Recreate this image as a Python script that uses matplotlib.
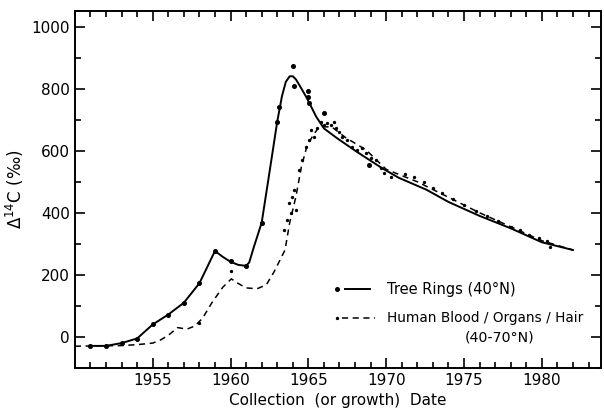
import matplotlib
matplotlib.use('Agg')
import matplotlib.pyplot as plt
from matplotlib.ticker import MultipleLocator

# tree ring measurements (dots)
tree_years = [1951, 1952, 1953, 1954, 1955, 1956, 1957, 1958, 1959, 1960, 1961,
              1962, 1963, 1963.1, 1964.0, 1964.1, 1965.0, 1965.0, 1965.05, 1966.0, 1968.9]
tree_vals = [-29, -29, -20, -7, 42, 71, 109, 173, 277, 245, 229,
             368, 694, 742, 874, 810, 794, 774, 755, 723, 555]

# tree ring fitted curve
tree_curve_years = [1950.9, 1952, 1953, 1954, 1955, 1956, 1957, 1958, 1958.5, 1959,
                    1959.5, 1960, 1960.5, 1961, 1961.2, 1961.5, 1962, 1962.5, 1963,
                    1963.3, 1963.55, 1963.8, 1964.0, 1964.2, 1964.5, 1964.9, 1965.5, 1966,
                    1966.8, 1968.1, 1969.7, 1970.8, 1972.6, 1974, 1976, 1978, 1980, 1982]
tree_curve_vals = [-29, -29, -20, -5, 40, 72, 110, 173, 225, 277,
                   258, 242, 232, 229, 240, 290, 368, 530, 694,
                   775, 822, 840, 840, 830, 805, 770, 710, 672,
                   642, 597, 545, 513, 474, 435, 390, 350, 305, 280]

# human blood / organs / hair curve
human_curve_years = [1950, 1953, 1954, 1955, 1955.5, 1956, 1956.6, 1957.2, 1957.7, 1958.2,
                     1958.8, 1959.5, 1960.05, 1960.5, 1961, 1961.7, 1962.3, 1962.8,
                     1963.5, 1963.8, 1964.2, 1964.55, 1964.9, 1965.3, 1965.7, 1966.5,
                     1967.4, 1968.7, 1970, 1972, 1974, 1976, 1978, 1980, 1982]
human_curve_vals = [-30, -28, -25, -20, -10, 5, 30, 25, 35, 60,
                    110, 160, 187, 172, 158, 155, 168, 210,
                    280, 368, 452, 548, 613, 650, 677, 677,
                    642, 603, 540, 500, 450, 400, 355, 310, 280]

# human sample points
human_years = [1958.0, 1960.0, 1963.46, 1963.65, 1963.78, 1963.97, 1964.23, 1963.91, 1964.10,
               1964.42, 1964.62, 1964.87, 1965.06, 1965.19, 1965.38, 1965.58, 1965.83,
               1966.03, 1966.22, 1966.47, 1966.67, 1966.79, 1966.99, 1967.18, 1967.5,
               1967.82, 1968.14, 1968.46, 1968.72, 1969.04, 1969.36, 1969.68, 1969.87,
               1970.32, 1971.2, 1971.8, 1972.4, 1973.0, 1973.6, 1974.3, 1975.0, 1975.8,
               1976.5, 1977.2, 1978.0, 1978.6, 1979.2, 1979.8, 1980.3, 1980.5]
human_vals = [45, 213, 345, 377, 432, 452, 410, 400, 474,
              539, 571, 613, 635, 668, 645, 674, 694,
              684, 690, 684, 694, 674, 661, 645, 635,
              613, 603, 610, 593, 577, 571, 545, 529,
              516, 525, 515, 500, 480, 465, 445, 425, 405,
              390, 372, 355, 345, 330, 320, 310, 290]

fig = plt.figure(figsize=(6.04, 4.12), dpi=100)
ax = fig.add_axes([0.124, 0.107, 0.871, 0.866])

ax.plot(tree_curve_years, tree_curve_vals, color='black', lw=1.4)
ax.plot(tree_years, tree_vals, 'o', color='black', ms=2.6)
ax.plot(human_curve_years, human_curve_vals, color='black', lw=1.1, dashes=(4, 3))
ax.plot(human_years, human_vals, 'o', color='black', ms=1.4)

ax.set_xlim(1950, 1983.8)
ax.set_ylim(-100, 1050)
ax.xaxis.set_major_locator(MultipleLocator(5))
ax.xaxis.set_minor_locator(MultipleLocator(1))
ax.yaxis.set_major_locator(MultipleLocator(200))
ax.yaxis.set_minor_locator(MultipleLocator(100))
ax.tick_params(which='both', direction='in', top=True, right=True, width=1.2, labelsize=11)
ax.tick_params(which='major', length=7)
ax.tick_params(which='minor', length=4)
ax.set_xticks([1955, 1960, 1965, 1970, 1975, 1980])
for s in ax.spines.values():
    s.set_linewidth(1.4)

ax.set_xlabel('Collection  (or growth)  Date', fontsize=11)
ax.set_ylabel(r'$\Delta^{14}$C (‰)', fontsize=12)

# hand-made legend
tr = ax.transAxes
ax.plot([0.498], [0.221], 'o', color='black', ms=2.6, transform=tr)
ax.plot([0.513, 0.561], [0.221, 0.221], color='black', lw=1.4, transform=tr)
ax.text(0.593, 0.221, 'Tree Rings (40°N)', transform=tr, fontsize=10.5, va='center')
ax.plot([0.498], [0.140], 'o', color='black', ms=1.4, transform=tr)
ax.plot([0.508, 0.570], [0.140, 0.140], color='black', lw=1.1, dashes=(4, 3), transform=tr)
ax.text(0.593, 0.140, 'Human Blood / Organs / Hair', transform=tr, fontsize=9.8, va='center')
ax.text(0.808, 0.084, '(40-70°N)', transform=tr, fontsize=10.2, va='center', ha='center')

fig.savefig('out.png', dpi=100)
